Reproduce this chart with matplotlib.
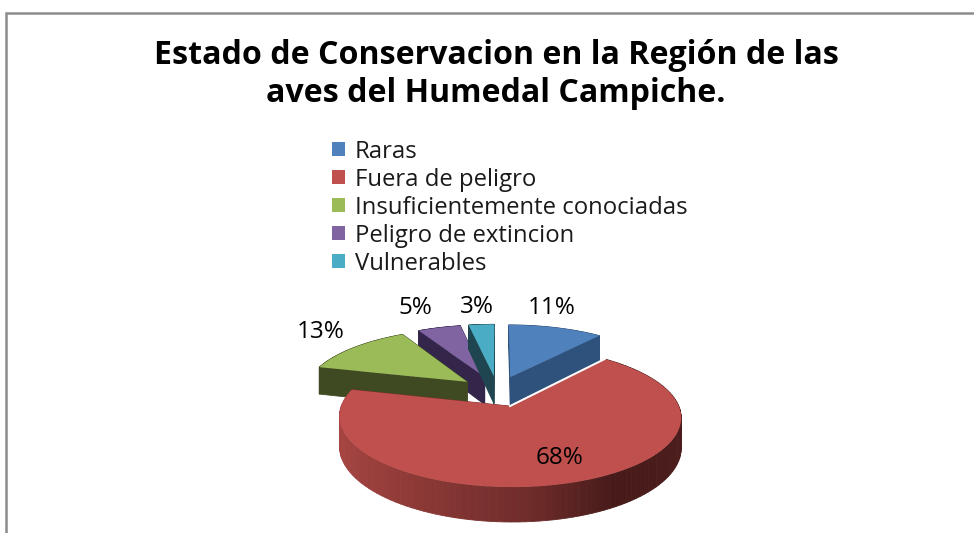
import matplotlib
matplotlib.use("Agg")
import matplotlib.pyplot as plt
import numpy as np
from matplotlib.transforms import Transform

plt.rcParams["font.family"] = ["Open Sans", "DejaVu Sans"]

title = "Estado de Conservacion en la Región de las\naves del Humedal Campiche."
categories = ["Raras", "Fuera de peligro", "Insuficientemente conociadas",
              "Peligro de extincion", "Vulnerables"]
values = [11, 68, 13, 5, 3]

colors = ["#4F81BD", "#C0504D", "#9BBB59", "#8064A2", "#4BACC6"]
side_colors = ["#2F527C", "#7A2F2D", "#3F4A22", "#33264A", "#1F4550"]
label_xy = [(552, 308), (560, 458), (321, 332), (415, 308), (477, 307)]

# camera for the tilted pie, in pixels
CX, CY = 497.5, 391
RX, RY = 163, 63.8
PERSP = 0.15
DEPTH = 28.5


def project(u, v, z=0.0):
    w = 1 + PERSP * np.asarray(v)
    return CX + RX * np.asarray(u) / w, CY - RY * np.asarray(v) / w + DEPTH * z / w


class TiltTransform(Transform):
    """ Lays the flat pie on the tilted plane """
    input_dims = 2
    output_dims = 2

    def transform_non_affine(self, values):
        x, y = project(values[:, 0], values[:, 1])
        return np.column_stack([x, y])


def rim_point(wedge, theta, r=None):
    r = wedge.r if r is None else r
    t = np.deg2rad(theta)
    return wedge.center[0] + r * np.cos(t), wedge.center[1] + r * np.sin(t)


def fill_quad(ax, a, b, color, zorder):
    """ Vertical wall between two points of the top face """
    xa, ya = project(*a)
    xb, yb = project(*b)
    xc, yc = project(*b, 1)
    xd, yd = project(*a, 1)
    ax.fill([xa, xb, xc, xd], [ya, yb, yc, yd], color=color, lw=0.6, zorder=zorder)


def red_shade(t):
    # light on the left of the rim, darkest right of centre
    left = np.array([0xA8, 0x45, 0x42]) / 255
    dark = np.array([0x47, 0x1B, 0x1A]) / 255
    k = np.interp(t, [-1, 0.1, 0.5, 1], [0, 0.62, 1, 0.95])
    return tuple(left + (dark - left) * k)


fig = plt.figure(figsize=(9.74, 5.33), dpi=100)
ax = fig.add_axes([0, 0, 1, 1])
wedges, _ = ax.pie(values, explode=[0.24] * len(values), startangle=90,
                   counterclock=False, colors=colors)
ax.set_aspect("auto")
ax.set_xlim(0, 974)
ax.set_ylim(533, 0)
ax.axis("off")

tilt = TiltTransform() + ax.transData
z = 1
for i in [0, 3, 4, 2, 1]:
    wedge = wedges[i]
    z += 1
    apex = wedge.center
    fill_quad(ax, apex, rim_point(wedge, wedge.theta1), side_colors[i], z)
    fill_quad(ax, apex, rim_point(wedge, wedge.theta2), side_colors[i], z)
    angles = np.linspace(wedge.theta1, wedge.theta2, 121)
    for t1, t2 in zip(angles[:-1], angles[1:]):
        color = red_shade(np.cos(np.deg2rad(t1))) if i == 1 else side_colors[i]
        fill_quad(ax, rim_point(wedge, t1), rim_point(wedge, t2), color, z)
    z += 1
    wedge.set_transform(tilt)
    wedge.set_zorder(z)

# thin white edge on the notch of the big slice
red = wedges[1]
edge_u, edge_v = rim_point(red, red.theta2)
edge_x, edge_y = project([red.center[0], edge_u], [red.center[1], edge_v])
ax.plot(edge_x, edge_y, color="white", lw=1.4, zorder=z + 1)

for value, (x, y) in zip(values, label_xy):
    ax.text(x, y, f"{value}%", fontsize=17.5, ha="center", va="center",
            color="black", zorder=z + 2)

ax.text(496, 74.5, title, fontsize=23.1, fontweight="bold", ha="center", va="center",
        linespacing=1.2, color="black")

ax.legend(wedges, categories, loc="upper left", bbox_to_anchor=(0.341, 0.738),
          bbox_transform=fig.transFigure, frameon=False, fontsize=17.2,
          handlelength=0.52, handleheight=0.52, handletextpad=0.42,
          labelspacing=0.167, borderpad=0, borderaxespad=0, labelcolor="#1a1a1a")

# chart frame, it runs off the right of the picture
ax.plot([6, 6, 974], [533, 12.5, 12.5], color="#8C8C8C", lw=1.8,
        solid_joinstyle="miter", zorder=0)

fig.savefig("out.png", dpi=100)
